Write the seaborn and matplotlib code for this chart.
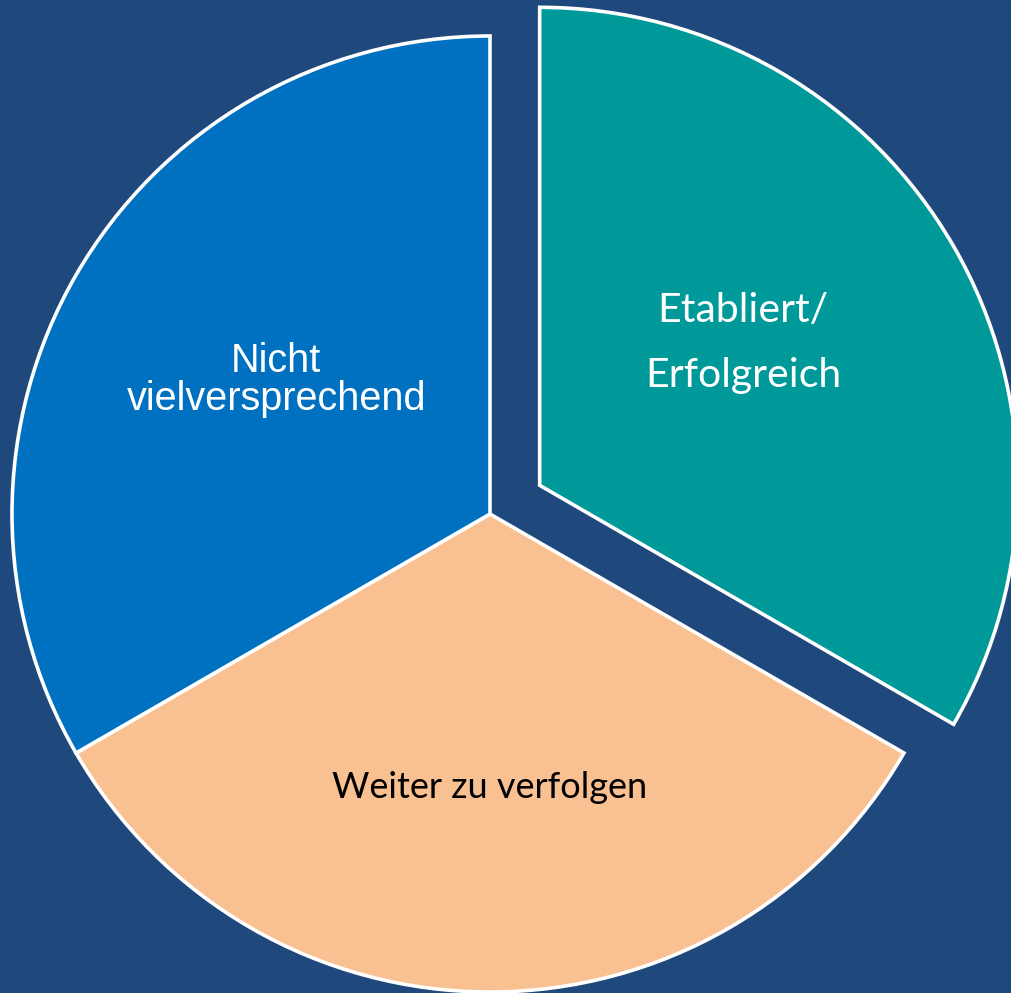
import numpy as np
import matplotlib.pyplot as plt
import seaborn as sns

# Daten
labels = ['Etabliert/\nErfolgreich', 'Weiter zu verfolgen', 'Nicht\nvielversprechend']
values = [1, 1, 1]
colors = ['#009999', '#F9C091', '#0070C0']
text_colors = ['white', 'black', 'white']
fonts = ['Lato', 'Lato', 'Liberation Sans']
font_sizes = [29.5, 26, 28.5]
line_spacing = [1.95, 1.2, 1.0]
label_dist = [248, 274, 252]
label_turn = [5, 0, -2]  # Grad, Feinkorrektur der Textposition
explode = [0.12, 0, 0]

bg = '#1F497D'
sns.set_theme(style='white')

fig = plt.figure(figsize=(10.11, 9.93), dpi=100, facecolor=bg)
ax = fig.add_axes([0, 0, 1, 1])
ax.set_facecolor(bg)

cx, cy, r = 490, 993 - 514, 478
# explode in Datenkoordinaten -> mit Radius skalieren
wedges, _ = ax.pie(values, colors=sns.color_palette(colors),
                   explode=[e * r for e in explode],
                   startangle=90, counterclock=False, center=(cx, cy), radius=r,
                   wedgeprops=dict(edgecolor='white', linewidth=2.6))

for w, lab, tc, fn, fs, ls, d, t in zip(wedges, labels, text_colors, fonts,
                                        font_sizes, line_spacing, label_dist, label_turn):
    mid = np.deg2rad((w.theta1 + w.theta2) / 2 + t)
    x0, y0 = w.center
    ax.text(x0 + d * np.cos(mid), y0 + d * np.sin(mid), lab, color=tc,
            fontsize=fs, family=fn, ha='center', va='center',
            multialignment='center', linespacing=ls)

ax.set_xlim(0, 1011)
ax.set_ylim(0, 993)
ax.set_aspect('equal')
ax.axis('off')

plt.savefig('out.png', dpi=100, facecolor=bg)
